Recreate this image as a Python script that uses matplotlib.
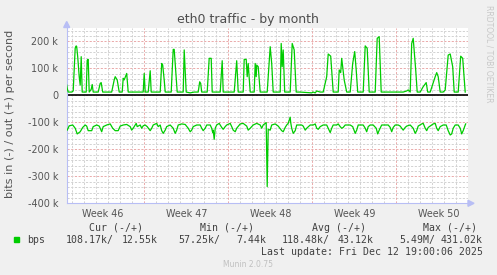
import matplotlib
matplotlib.use("Agg")
import matplotlib.pyplot as plt
import numpy as np

# ---- data (hours since graph start, values in kbit/s) ----
out_hours = [0, 1, 3, 10, 13, 17, 19, 20, 22, 25, 27, 29, 31, 39, 41, 43, 45, 49, 51, 53,
             63, 67, 69, 72, 90, 95, 97, 99, 101, 105, 111, 113, 115, 120, 123, 153, 155, 157,
             163, 167, 169, 187, 190, 192, 195, 197, 209, 213, 215, 217, 221, 233, 235, 239,
             247, 255, 263, 266, 268, 270, 281, 283, 285, 289, 291, 307, 311, 313, 335, 340,
             343, 353, 355, 359, 361, 363, 367, 375, 377, 379, 380, 383, 387, 401, 407, 410,
             413, 427, 429, 431, 433, 436, 447, 451, 455, 459, 467, 490, 493, 497, 500, 507,
             513, 520, 523, 528, 533, 543, 545, 548, 550, 555, 560, 567, 572, 576, 579, 582,
             593, 597, 601, 605, 617, 621, 625, 629, 647, 673, 680, 683, 687, 690, 693, 698,
             701, 707, 713, 719, 722, 727, 737, 740, 743, 747, 753, 757, 763, 767, 772, 775,
             783, 788, 792, 797]
out_kbps = [38, 26, 12, 12, 16, 175, 183, 180, 143, 69, 38, 143, 12, 12, 130, 133, 12, 22, 40, 12,
            12, 44, 47, 12, 12, 57, 69, 63, 57, 12, 12, 63, 57, 81, 12, 12, 81, 12,
            12, 91, 12, 12, 118, 112, 57, 12, 12, 170, 170, 118, 12, 12, 168, 12,
            9, 12, 12, 50, 44, 12, 12, 75, 137, 137, 12, 12, 128, 12, 12, 128,
            12, 12, 133, 133, 69, 118, 12, 12, 118, 69, 112, 106, 12, 12, 180, 118,
            12, 12, 192, 106, 168, 12, 12, 192, 168, 12, 12, 9, 12, 9, 16, 12,
            12, 69, 153, 145, 12, 12, 94, 84, 137, 57, 12, 12, 118, 162, 94, 12,
            12, 183, 174, 12, 12, 211, 217, 12, 12, 12, 16, 20, 12, 192, 211, 94,
            12, 12, 32, 47, 12, 12, 69, 84, 69, 12, 12, 20, 149, 153, 106, 12,
            12, 145, 137, 12]

in_hours = [1, 5, 12, 17, 21, 27, 32, 37, 40, 43, 50, 53, 60, 65, 70, 73, 80, 87, 92, 97,
            103, 107, 113, 120, 127, 130, 133, 137, 139, 141, 147, 150, 153, 157, 161, 167,
            170, 173, 180, 183, 187, 190, 193, 197, 200, 207, 213, 217, 220, 223, 230, 237,
            243, 247, 250, 253, 260, 267, 270, 273, 277, 280, 287, 290, 292, 293, 295, 297,
            300, 305, 310, 313, 317, 320, 327, 330, 333, 337, 340, 347, 353, 360, 363, 367,
            373, 380, 387, 390, 393, 399, 401, 403, 407, 410, 417, 423, 430, 433, 437, 440,
            443, 447, 448, 450, 453, 457, 460, 470, 473, 477, 480, 487, 493, 497, 500, 503,
            507, 513, 520, 523, 527, 530, 533, 540, 543, 547, 550, 553, 557, 567, 572, 577,
            580, 583, 593, 597, 600, 603, 607, 613, 619, 622, 625, 630, 637, 643, 647, 650,
            653, 657, 663, 667, 670, 673, 677, 680, 687, 693, 697, 700, 703, 710, 713, 717,
            720, 723, 730, 733, 737, 740, 743, 747, 753, 759, 763, 767, 770, 773, 777, 783,
            787, 790, 793, 797, 798]
in_kbps = [-129, -113, -110, -122, -143, -135, -119, -110, -114, -131, -131, -116, -110, -114,
           -135, -116, -110, -106, -122, -131, -131, -114, -110, -108, -116, -129, -122, -110,
           -104, -116, -110, -122, -113, -110, -116, -131, -122, -110, -104, -116, -110, -131,
           -141, -129, -116, -110, -122, -141, -129, -110, -106, -108, -122, -135, -129, -116,
           -110, -110, -122, -131, -122, -110, -110, -122, -138, -129, -163, -122, -110, -104,
           -119, -126, -116, -110, -104, -116, -129, -135, -122, -106, -104, -114, -129, -122,
           -110, -104, -110, -122, -110, -101, -338, -126, -129, -110, -106, -114, -131, -135,
           -119, -110, -104, -81, -101, -122, -141, -131, -110, -110, -114, -129, -122, -110,
           -110, -106, -122, -126, -116, -110, -110, -122, -138, -122, -110, -110, -106, -116,
           -122, -119, -110, -110, -116, -141, -129, -110, -110, -122, -135, -116, -110, -110,
           -122, -143, -129, -110, -110, -110, -119, -135, -119, -110, -110, -114, -122, -129,
           -119, -114, -110, -122, -141, -131, -114, -106, -104, -122, -131, -119, -110, -106,
           -104, -122, -131, -116, -110, -110, -131, -147, -143, -122, -110, -110, -122, -143,
           -131, -110, -106]

week_boundaries = [155, 323, 491, 659]
week_label_pos = [72, 240, 408, 576, 744]
week_labels = ["Week 46", "Week 47", "Week 48", "Week 49", "Week 50"]
y_ticks = [200, 100, 0, -100, -200, -300, -400]
y_tick_labels = ["200 k", "100 k", "0", "-100 k", "-200 k", "-300 k", "-400 k"]

legend_headers = ["Cur (-/+)", "Min (-/+)", "Avg (-/+)", "Max (-/+)"]
legend_in_vals = ["108.17k/", "57.25k/", "118.48k/", "5.49M/"]
legend_out_vals = ["12.55k", "7.44k", "43.12k", "431.02k"]

# ---- figure ----
W, H = 497, 275
fig = plt.figure(figsize=(W / 100, H / 100), dpi=100, facecolor="#f0f0f0")
L, R, T, B = 66.7, 468.0, 27.8, 203.3
ax = fig.add_axes([L / W, 1 - B / H, (R - L) / W, (B - T) / H])
ax.set_facecolor("white")
X0, X1 = 0, 802.6
ax.set_xlim(X0, X1)
ax.set_ylim(-400, 250)

minor_col = "#d2d2d2"
major_col = "#eaaaaa"
dash = (0, (2.2, 1.6))
for y in range(-400, 251, 20):
    if y % 100 == 0:
        continue
    ax.axhline(y, color=minor_col, lw=0.7, ls=dash, zorder=1)
for y in range(-300, 201, 100):
    ax.axhline(y, color=major_col, lw=0.7, ls=dash, zorder=1)
for d in np.arange(11, X1, 24):
    if any(abs(d - wb) < 1 for wb in week_boundaries):
        continue
    ax.axvline(d, color=minor_col, lw=0.7, ls=dash, zorder=1)
for wb in week_boundaries:
    ax.axvline(wb, color=major_col, lw=0.7, ls=dash, zorder=1)

ax.plot(out_hours, out_kbps, color="#00cc00", lw=0.9, zorder=3)
ax.plot(in_hours, in_kbps, color="#00cc00", lw=0.9, zorder=3)
ax.axhline(0, color="black", lw=1.2, zorder=2)

for s in ["top", "right"]:
    ax.spines[s].set_visible(False)
for s in ["left", "bottom"]:
    ax.spines[s].set_color("#b8bef5")
    ax.spines[s].set_linewidth(0.8)

ax.set_yticks(y_ticks)
ax.set_yticklabels(y_tick_labels)
ax.set_xticks(week_label_pos)
ax.set_xticklabels(week_labels)
ax.tick_params(axis="both", length=0, labelsize=6.9, labelcolor="#555555")
ax.tick_params(axis="y", pad=6)
ax.tick_params(axis="x", pad=4)
fig.text(10 / W, 1 - 114 / H, "bits in (-) / out (+) per second", rotation=90,
         ha="center", va="center", fontsize=8.1, color="#555555")

# arrows on axes
fig.patches.append(matplotlib.patches.Polygon(
    [[(L - 3) / W, 1 - 27.5 / H], [(L + 3) / W, 1 - 27.5 / H], [L / W, 1 - 21.5 / H]],
    closed=True, transform=fig.transFigure, color="#b8bef5", zorder=5))
fig.patches.append(matplotlib.patches.Polygon(
    [[468 / W, 1 - (B - 3) / H], [468 / W, 1 - (B + 3) / H], [474 / W, 1 - B / H]],
    closed=True, transform=fig.transFigure, color="#b8bef5", zorder=5))

# title
fig.text(248 / W, 1 - 19 / H, "eth0 traffic - by month", ha="center", va="center",
         fontsize=9, color="#4d4d4d")
fig.text(489 / W, 1 - 5 / H, "RRDTOOL / TOBI OETIKER", rotation=270, ha="center", va="top",
         fontsize=5.5, color="#c8c8c8")

# legend
mono = "DejaVu Sans Mono"
lc = "#404040"
hdr_left = [89.3, 200.3, 311.7, 422.7]
in_right = [113.3, 220.7, 330.0, 435.3]
out_right = [157.3, 266.0, 374.0, 482.7]
for i in range(4):
    fig.text(hdr_left[i] / W, 1 - 227.7 / H, legend_headers[i], ha="left", va="center",
             fontsize=7.1, family=mono, color=lc)
    fig.text(in_right[i] / W, 1 - 239.7 / H, legend_in_vals[i], ha="right", va="center",
             fontsize=7.1, family=mono, color=lc)
    fig.text(out_right[i] / W, 1 - 239.7 / H, legend_out_vals[i], ha="right", va="center",
             fontsize=7.1, family=mono, color=lc)
fig.patches.append(matplotlib.patches.Rectangle((14.3 / W, 1 - 242 / H), 5 / W, 5.5 / H,
                                                transform=fig.transFigure, color="#00cc00"))
fig.text(26.7 / W, 1 - 239.7 / H, "bps", ha="left", va="center", fontsize=7.1, family=mono, color=lc)
fig.text(482.7 / W, 1 - 251.7 / H, "Last update: Fri Dec 12 19:00:06 2025", ha="right",
         va="center", fontsize=7.1, family=mono, color=lc)
fig.text(248 / W, 1 - 264.3 / H, "Munin 2.0.75", ha="center", va="center", fontsize=5.5,
         color="#c0c0c0")

fig.savefig("out.png", dpi=100, facecolor=fig.get_facecolor())
